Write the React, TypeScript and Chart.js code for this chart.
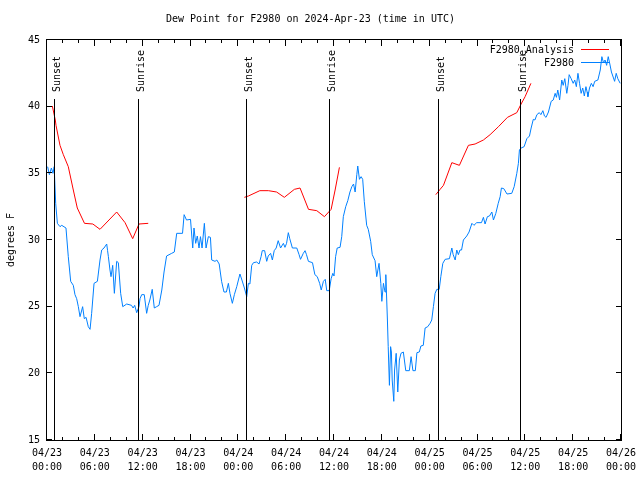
import React, { useEffect, useRef } from 'react';
import { Chart, registerables } from 'chart.js';

Chart.register(...registerables);

const FONT_FAMILY = '"DejaVu Sans Mono", "Liberation Mono", monospace';

const titleText = 'Dew Point for F2980 on 2024-Apr-23 (time in UTC)';
const yAxisLabel = 'degrees F';
const analysisLabel = 'F2980_Analysis';
const obsLabel = 'F2980';

const tickHours = [0, 6, 12, 18, 24, 30, 36, 42, 48, 54, 60, 66, 72];
const tickDates = ['04/23', '04/23', '04/23', '04/23', '04/24', '04/24', '04/24', '04/24', '04/25', '04/25', '04/25', '04/25', '04/26'];
const tickTimes = ['00:00', '06:00', '12:00', '18:00', '00:00', '06:00', '12:00', '18:00', '00:00', '06:00', '12:00', '18:00', '00:00'];
const yTicks = [15, 20, 25, 30, 35, 40, 45];

const sunHours = [1.04, 11.58, 25.13, 35.55, 49.2, 59.47];
const sunLabels = ['Sunset', 'Sunrise', 'Sunset', 'Sunrise', 'Sunset', 'Sunrise'];

// F2980_Analysis (hours since 04/23 00:00 UTC, deg F); null separates segments
const analysisHours = [
  0.67, 1.04, 1.13, 1.63, 2.05, 2.67, 3.3, 3.8, 4.7, 5.75, 6.65, 8.74, 9.79, 10.75, 11.54, 12.7,
  18,
  24.76, 25.26, 26.7, 27.77, 28.8, 29.77, 31.03, 31.74, 32.8, 33.84, 34.8, 35.64, 36.14, 36.68,
  42,
  48.77, 49.31, 49.73, 50.78, 51.73, 52.86, 53.7, 54.74, 55.58, 56.63, 57.76, 58.93, 59.47, 59.97, 60.7,
];
const analysisValues = [
  40.05, 39.0, 38.6, 37.1, 36.4, 35.5, 33.75, 32.4, 31.25, 31.2, 30.8, 32.1, 31.3, 30.1, 31.2, 31.25,
  null,
  33.2, 33.3, 33.7, 33.7, 33.6, 33.2, 33.8, 33.9, 32.3, 32.2, 31.75, 32.3, 33.75, 35.45,
  null,
  33.4, 33.8, 34.1, 35.8, 35.6, 37.1, 37.2, 37.5, 37.9, 38.5, 39.2, 39.55, 40.2, 40.75, 41.75,
];

// F2980 observations
const obsHours = [
  0.08, 0.3, 0.55, 0.75, 0.9, 1.0, 1.09, 1.3, 1.63, 1.85, 2.38, 2.67, 2.97, 3.3, 3.51, 3.72, 3.93, 4.14, 4.3, 4.47,
  4.68, 4.9, 5.18, 5.4, 5.6, 5.9, 6.32, 6.65, 6.86, 7.15, 7.49, 7.6, 7.7, 7.9, 8.03, 8.24, 8.45, 8.74, 8.95, 9.24,
  9.5, 10.0, 10.6, 10.8, 11.0, 11.25, 11.54, 11.67, 11.88, 12.2, 12.5, 12.7, 12.9, 13.2, 13.46, 13.75, 14.05, 14.4, 14.68, 15.0,
  15.64, 15.97, 16.27, 17.0, 17.2, 17.5, 18.0, 18.28, 18.44, 18.65, 18.85, 19.07, 19.25, 19.45, 19.74, 19.95, 20.24, 20.5, 20.66, 21.08,
  21.3, 21.6, 21.9, 22.2, 22.5, 22.75, 22.95, 23.25, 23.5, 23.8, 24.2, 24.45, 24.76, 25.05, 25.26, 25.45, 25.68, 25.9, 26.3, 26.6,
  26.85, 27.0, 27.3, 27.56, 27.75, 28.05, 28.27, 28.5, 28.75, 29.0, 29.3, 29.65, 29.85, 30.05, 30.27, 30.45, 30.78, 31.33, 31.62, 31.8,
  32.15, 32.37, 32.55, 32.79, 33.3, 33.6, 33.9, 34.2, 34.4, 34.67, 34.9, 35.09, 35.4, 35.64, 35.85, 36.0, 36.2, 36.4, 36.76, 36.97,
  37.17, 37.47, 37.73, 38.0, 38.24, 38.45, 38.65, 38.86, 38.98, 39.19, 39.4, 39.6, 39.8, 40.1, 40.3, 40.6, 40.8, 41.15, 41.36, 41.65,
  41.87, 42.0, 42.2, 42.4, 42.5, 42.7, 42.8, 42.95, 43.1, 43.2, 43.3, 43.5, 43.6, 43.8, 44.0, 44.2, 44.4, 44.7, 45.0, 45.45,
  45.67, 45.9, 46.2, 46.4, 46.7, 46.9, 47.2, 47.43, 47.76, 48.05, 48.26, 48.47, 48.68, 48.9, 49.2, 49.4, 49.65, 49.94, 50.48, 50.78,
  50.95, 51.2, 51.4, 51.6, 51.8, 52.0, 52.23, 52.65, 52.94, 53.3, 53.55, 53.9, 54.5, 54.74, 54.95, 55.24, 55.5, 55.8, 56.0, 56.3,
  56.6, 56.84, 57.0, 57.3, 57.7, 58.3, 58.6, 58.93, 59.13, 59.26, 59.47, 59.85, 60.19, 60.52, 60.73, 61.0, 61.2, 61.45, 61.75, 61.95,
  62.2, 62.4, 62.6, 62.9, 63.24, 63.5, 63.74, 63.9, 64.07, 64.3, 64.57, 64.75, 64.95, 65.2, 65.35, 65.5, 65.75, 66.0, 66.2, 66.4,
  66.6, 66.8, 67.0, 67.2, 67.4, 67.6, 67.75, 67.85, 68.05, 68.28, 68.5, 68.7, 69.1, 69.4, 69.6, 69.8, 70.0, 70.2, 70.4, 70.6,
  70.8, 71.2, 71.4, 71.6, 71.9,
];
const obsValues = [
  35.5, 34.9, 35.4, 35.0, 35.5, 35.5, 32.75, 31.25, 31.0, 31.1, 30.9, 28.75, 26.9, 26.6, 25.9, 25.6, 25.0, 24.25, 24.6, 25.0,
  24.1, 24.2, 23.5, 23.3, 24.5, 26.75, 26.9, 28.5, 29.25, 29.4, 29.7, 29.2, 28.75, 27.75, 27.25, 28.1, 26.0, 28.4, 28.3, 26.0,
  25.0, 25.2, 25.1, 24.9, 25.1, 24.55, 25.0, 25.6, 25.9, 25.9, 24.5, 25.1, 25.5, 26.3, 24.9, 25.0, 25.1, 26.25, 27.6, 28.8,
  29.0, 29.1, 30.5, 30.5, 31.9, 31.5, 31.55, 29.4, 30.9, 29.75, 30.3, 29.4, 30.25, 29.4, 31.25, 29.4, 30.25, 30.2, 28.5, 28.4,
  28.5, 28.2, 26.9, 26.1, 26.1, 26.75, 26.0, 25.25, 25.9, 26.5, 27.45, 27.0, 26.4, 25.75, 26.75, 26.7, 28.1, 28.3, 28.35, 28.2,
  28.75, 29.2, 29.2, 28.4, 28.8, 29.0, 28.5, 29.2, 29.4, 29.95, 29.4, 29.75, 29.45, 29.75, 30.55, 30.1, 29.4, 29.4, 28.9, 28.55,
  29.0, 29.2, 28.9, 28.4, 28.3, 27.4, 27.25, 26.75, 26.25, 26.9, 27.05, 26.2, 26.2, 27.1, 27.5, 27.3, 28.75, 29.4, 29.45, 30.25,
  31.75, 32.5, 32.95, 33.6, 34.0, 34.2, 33.6, 34.9, 35.55, 34.55, 34.75, 34.55, 32.9, 31.1, 30.8, 29.9, 28.9, 28.45, 27.25, 28.25,
  26.75, 25.4, 26.75, 26.1, 27.4, 24.0, 22.0, 19.1, 22.0, 21.6, 19.5, 17.9, 20.25, 21.5, 18.6, 21.0, 21.5, 21.6, 20.2, 20.2,
  21.25, 20.2, 20.2, 21.55, 21.6, 22.05, 22.1, 23.4, 23.5, 23.75, 24.0, 25.0, 26.0, 26.3, 26.3, 27.25, 28.25, 28.55, 28.6, 29.4,
  28.9, 28.5, 29.25, 28.9, 29.25, 29.25, 30.0, 30.3, 30.6, 31.25, 31.1, 31.3, 31.3, 31.7, 31.2, 31.75, 31.8, 32.1, 31.5, 32.0,
  32.75, 33.25, 33.9, 33.85, 33.45, 33.5, 34.0, 35.0, 35.75, 36.75, 36.9, 37.0, 37.6, 37.8, 38.4, 39.05, 39.0, 39.4, 39.55, 39.4,
  39.7, 39.3, 39.2, 39.6, 40.4, 40.5, 41.0, 40.7, 41.25, 40.5, 42.0, 41.6, 42.1, 41.0, 41.6, 42.4, 42.1, 41.75, 42.0, 41.5,
  42.5, 41.75, 41.0, 41.4, 40.8, 41.5, 41.1, 40.75, 41.4, 41.75, 41.5, 41.9, 42.0, 42.75, 43.75, 43.3, 43.5, 43.1, 43.75, 43.2,
  42.6, 41.9, 42.5, 42.1, 41.75,
];

const analysisColor = '#ff0000';
const obsColor = '#0080ff';

const overlayPlugin = {
  id: 'gnuplotOverlay',
  afterDatasetsDraw(chart: any) {
    const { ctx, chartArea, scales } = chart;
    const { left, right, top, bottom } = chartArea;
    const xs = scales.x;
    const ys = scales.y;
    ctx.save();
    ctx.lineWidth = 1;
    ctx.strokeStyle = '#000';
    ctx.fillStyle = '#000';
    ctx.font = `10px ${FONT_FAMILY}`;

    // sunrise / sunset markers
    sunHours.forEach((h, i) => {
      const px = Math.round(xs.getPixelForValue(h)) - 0.5;
      const lineTop = top + 59;
      ctx.beginPath();
      ctx.moveTo(px, lineTop);
      ctx.lineTo(px, bottom);
      ctx.stroke();
      ctx.save();
      ctx.translate(px + 2.5, lineTop - 7);
      ctx.rotate(-Math.PI / 2);
      ctx.textAlign = 'left';
      ctx.textBaseline = 'middle';
      ctx.fillText(sunLabels[i], 0, 0);
      ctx.restore();
    });

    // frame
    ctx.strokeRect(left - 0.5, top - 0.5, right - left + 1, bottom - top + 1);

    // x ticks (every 2 h, major every 6 h), inward on bottom and top
    for (let h = 0; h <= 72; h += 2) {
      const px = Math.round(xs.getPixelForValue(h)) - 0.5;
      const len = h % 6 === 0 ? 6 : 3;
      ctx.beginPath();
      ctx.moveTo(px, bottom);
      ctx.lineTo(px, bottom - len);
      ctx.moveTo(px, top);
      ctx.lineTo(px, top + len);
      ctx.stroke();
    }
    // y ticks, inward on both sides
    yTicks.forEach((v) => {
      const py = Math.round(ys.getPixelForValue(v)) - 0.5;
      ctx.beginPath();
      ctx.moveTo(left, py);
      ctx.lineTo(left + 5, py);
      ctx.moveTo(right, py);
      ctx.lineTo(right - 5, py);
      ctx.stroke();
    });

    // legend
    const legendItems = [
      { label: analysisLabel, color: analysisColor },
      { label: obsLabel, color: obsColor },
    ];
    legendItems.forEach((it, i) => {
      const cy = top + 10 + i * 13;
      ctx.fillStyle = '#000';
      ctx.textAlign = 'right';
      ctx.textBaseline = 'middle';
      ctx.fillText(it.label, right - 47, cy);
      ctx.strokeStyle = it.color;
      ctx.beginPath();
      ctx.moveTo(right - 40, cy - 0.5);
      ctx.lineTo(right - 12, cy - 0.5);
      ctx.stroke();
    });
    ctx.restore();
  },
};

export default function App() {
  const canvasRef = useRef<HTMLCanvasElement | null>(null);

  useEffect(() => {
    document.body.style.margin = '0';
    const canvas = canvasRef.current;
    if (!canvas) return;
    const font = { family: FONT_FAMILY, size: 10, weight: 'normal' as const, lineHeight: 1.33 };
    const chart = new Chart(canvas, {
      type: 'line',
      data: {
        datasets: [
          {
            label: analysisLabel,
            data: analysisHours.map((h, i) => ({ x: h, y: analysisValues[i] })) as any,
            borderColor: analysisColor,
            borderWidth: 1,
            pointRadius: 0,
            tension: 0,
            fill: false,
            spanGaps: false,
          },
          {
            label: obsLabel,
            data: obsHours.map((h, i) => ({ x: h, y: obsValues[i] })),
            borderColor: obsColor,
            borderWidth: 1,
            pointRadius: 0,
            tension: 0,
            fill: false,
          },
        ],
      },
      options: {
        animation: false,
        responsive: false,
        devicePixelRatio: 1,
        layout: { padding: { top: 0, right: 19, bottom: 0, left: 0 } },
        plugins: {
          legend: { display: false },
          tooltip: { enabled: false },
          title: {
            display: true,
            text: titleText,
            color: '#000',
            font: { family: FONT_FAMILY, size: 10, weight: 'normal', lineHeight: 1.2 },
            padding: { top: 13, bottom: 15 },
          },
        },
        scales: {
          x: {
            type: 'linear',
            min: 0,
            max: 72,
            afterFit: (s: any) => {
              s.height = 40;
              s.paddingLeft = 0;
              s.paddingRight = 0;
            },
            afterBuildTicks: (s: any) => {
              s.ticks = tickHours.map((v) => ({ value: v }));
            },
            grid: { display: false, drawTicks: false, tickLength: 0 },
            border: { display: false },
            ticks: {
              autoSkip: false,
              maxRotation: 0,
              minRotation: 0,
              padding: 7,
              color: '#000',
              font,
              callback: (v: any) => {
                const i = tickHours.indexOf(Number(v));
                return i >= 0 ? [tickDates[i], tickTimes[i]] : '';
              },
            },
          },
          y: {
            type: 'linear',
            min: 15,
            max: 45,
            afterFit: (s: any) => {
              s.width = 47;
              s.paddingTop = 0;
              s.paddingBottom = 0;
            },
            afterBuildTicks: (s: any) => {
              s.ticks = yTicks.map((v) => ({ value: v }));
            },
            grid: { display: false, drawTicks: false, tickLength: 0 },
            border: { display: false },
            ticks: {
              padding: 7,
              color: '#000',
              font: { family: FONT_FAMILY, size: 10, weight: 'normal' },
              callback: (v: any) => String(v),
            },
            title: {
              display: true,
              text: yAxisLabel,
              color: '#000',
              font: { family: FONT_FAMILY, size: 10, weight: 'normal', lineHeight: 1.2 },
              padding: { top: 5, bottom: 0 },
            },
          },
        },
      },
      plugins: [overlayPlugin],
    });
    return () => chart.destroy();
  }, []);

  return (
    <div style={{ width: 640, height: 480, background: '#fff' }}>
      <canvas ref={canvasRef} width={640} height={480} style={{ display: 'block' }} />
    </div>
  );
}
